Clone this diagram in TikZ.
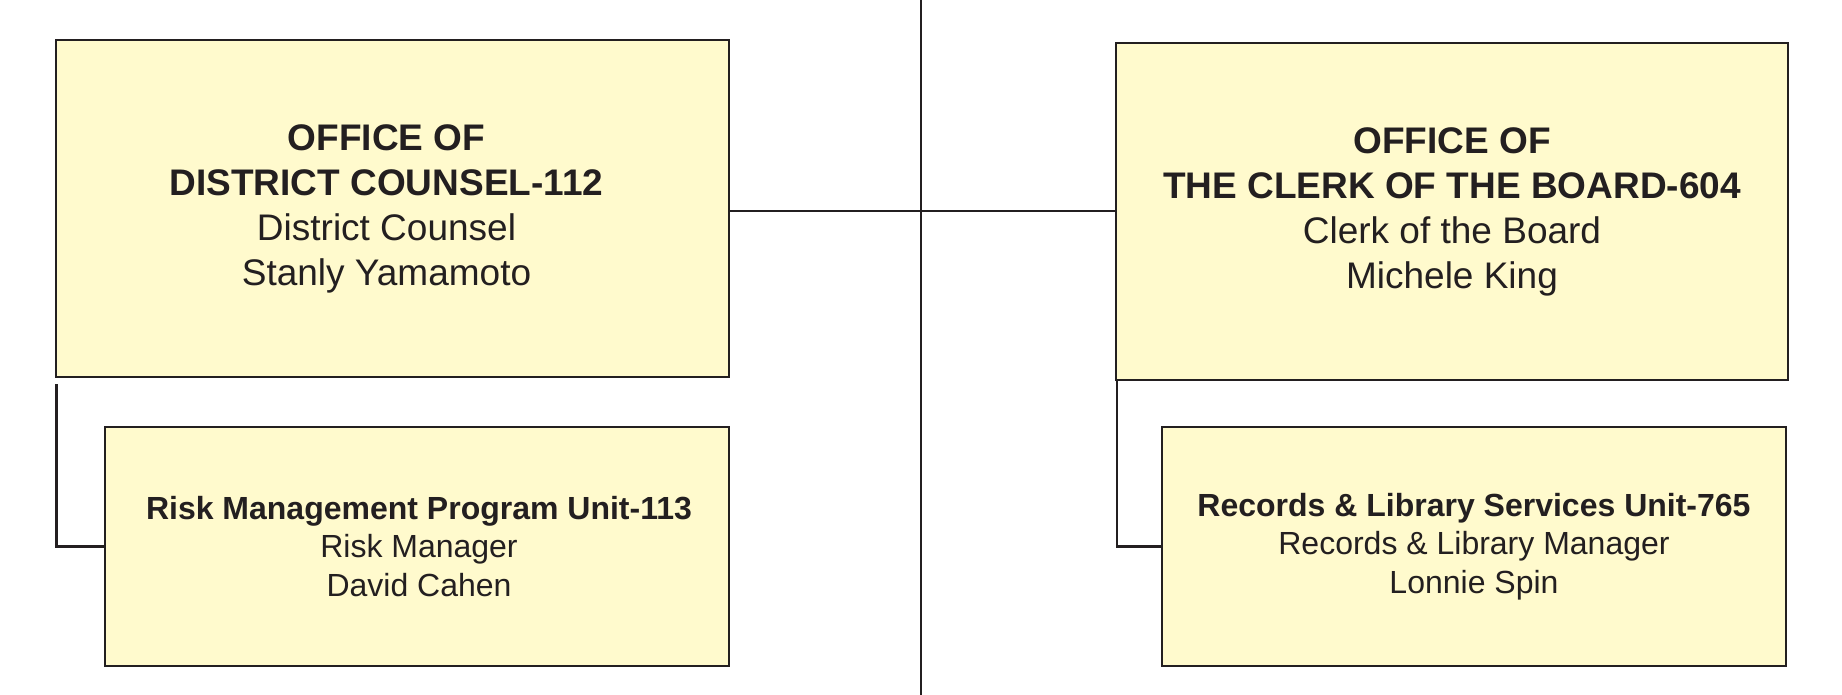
\documentclass[tikz,border=0pt]{standalone}
\usepackage{fontspec}
\setmainfont{Liberation Sans}
\definecolor{boxfill}{HTML}{FFFACD}
\definecolor{ink}{HTML}{231F20}
\begin{document}
\begin{tikzpicture}[x=1pt,y=-1pt,
  boxshape/.style={draw=ink, fill=boxfill, line width=2.4pt, inner sep=0pt},
  bigtext/.style={text=ink, align=center, inner sep=0pt, font=\fontsize{37}{45}\selectfont},
  smalltext/.style={text=ink, align=center, inner sep=0pt, font=\fontsize{32}{38.5}\selectfont},
  conn/.style={draw=ink, line width=2.4pt}]
\useasboundingbox (0,0) rectangle (1842,695);
\coordinate (top) at (921,0);
\coordinate (bot) at (921,695);
\coordinate (hl) at (921,211);
\draw[conn] (top) -- (bot);
\node[boxshape, minimum width=673pt, minimum height=337pt] (A) at (392.5,208.5) {};
\node[bigtext] (At) at ([xshift=-6pt]A.center)
  {\textbf{OFFICE OF}\\\textbf{DISTRICT COUNSEL-112}\\District Counsel\\Stanly Yamamoto};
\node[boxshape, minimum width=672pt, minimum height=337pt] (B) at (1452,211.5) {};
\node[bigtext] (Bt) at (B.center)
  {\textbf{OFFICE OF}\\\textbf{THE CLERK OF THE BOARD-604}\\Clerk of the Board\\Michele King};
\node[boxshape, minimum width=624pt, minimum height=239pt] (A1) at (417,546.5) {};
\node[smalltext] (A1t) at ([xshift=2pt]A1.center)
  {\textbf{Risk Management Program Unit-113}\\Risk Manager\\David Cahen};
\node[boxshape, minimum width=624pt, minimum height=239pt] (B1) at (1474,546.5) {};
\node[smalltext] (B1t) at (B1.center)
  {\textbf{Records \& Library Services Unit-765}\\Records \& Library Manager\\Lonnie Spin};
\draw[conn] (A.east |- hl) -- (B.west |- hl);
\draw[conn] ([shift={(1.5,6)}]A.south west) |- (A1.west);
\draw[conn] ([shift={(2,0)}]B.south west) |- (B1.west);
\end{tikzpicture}
\end{document}
